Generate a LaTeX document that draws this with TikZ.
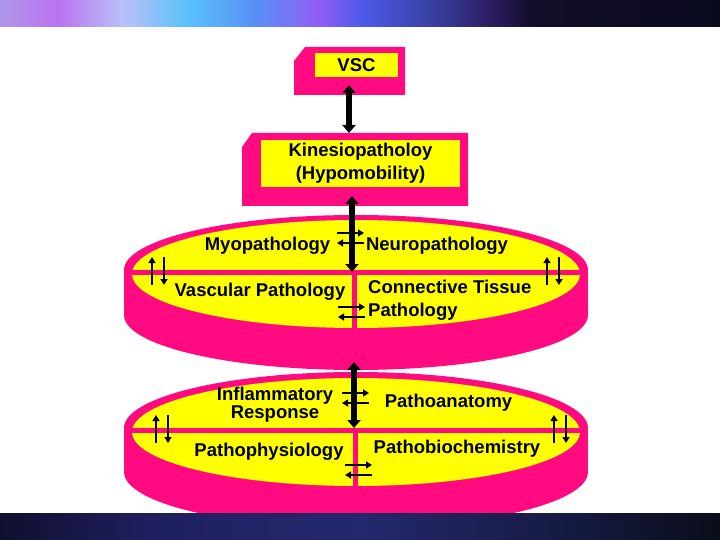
\documentclass[tikz,border=0pt]{standalone}
\usepackage{fontspec}
\setmainfont{Liberation Sans}
\usetikzlibrary{arrows.meta, positioning}
\definecolor{discpink}{HTML}{FF0A80}
\definecolor{boxyellow}{HTML}{FFFF00}
\pgfdeclarehorizontalshading{topband}{100bp}{rgb(0bp)=(0.69,0.59,0.92); rgb(25bp)=(0.69,0.59,0.92);
  rgb(29bp)=(0.73,0.45,0.94); rgb(33.5bp)=(0.73,0.75,0.98); rgb(38bp)=(0.35,0.76,0.98);
  rgb(43bp)=(0.35,0.55,0.96); rgb(47bp)=(0.57,0.37,0.96); rgb(50bp)=(0.31,0.35,0.92);
  rgb(55bp)=(0.22,0.25,0.63); rgb(59bp)=(0.18,0.12,0.39); rgb(62bp)=(0.07,0.05,0.16);
  rgb(75bp)=(0.04,0.04,0.12); rgb(100bp)=(0.04,0.04,0.12)}
\pgfdeclarehorizontalshading{bottomband}{100bp}{rgb(0bp)=(0.06,0.06,0.18); rgb(25bp)=(0.06,0.06,0.18);
  rgb(35bp)=(0.12,0.12,0.37); rgb(50bp)=(0.14,0.16,0.43); rgb(65bp)=(0.08,0.10,0.25);
  rgb(75bp)=(0.04,0.05,0.10); rgb(100bp)=(0.04,0.05,0.10)}

\begin{document}
\begin{tikzpicture}[x=1pt, y=-1pt,
    txt/.style={font=\bfseries\fontsize{18.5}{20}\selectfont, inner sep=0pt},
    ybox/.style={rectangle, fill=boxyellow, inner sep=0pt, font=\bfseries\fontsize{18.5}{23}\selectfont},
    bigarrow/.style={{Triangle[length=8pt,width=13pt]}-{Triangle[length=8pt,width=13pt]}, line width=5.5pt},
    xarrow/.style={-{Triangle[length=6pt,width=7pt]}, line width=2.2pt}
  ]
  \useasboundingbox (0,0) rectangle (720,540);
  \fill[white] (0,0) rectangle (720,540);

  % upper disc
  \fill[discpink] (356,315) ellipse [x radius=232pt, y radius=55pt];
  \fill[discpink] (124,270) rectangle (588,315);
  \fill[discpink] (356,270) ellipse [x radius=232pt, y radius=55pt];
  \fill[boxyellow] (356,274) ellipse [x radius=224pt, y radius=54pt];
  \draw[discpink, line width=5pt] (132,272) -- (580,272);
  \draw[discpink, line width=5pt] (354,272) -- (354,328);

  % lower disc
  \fill[discpink] (356,472) ellipse [x radius=232pt, y radius=56pt];
  \fill[discpink] (124,428) rectangle (588,472);
  \fill[discpink] (356,428) ellipse [x radius=232pt, y radius=56pt];
  \fill[boxyellow] (356,432) ellipse [x radius=224pt, y radius=54pt];
  \draw[discpink, line width=5pt] (132,430) -- (580,430);
  \draw[discpink, line width=5pt] (355,430) -- (355,486);

  % top boxes
  \fill[discpink] (294,61) -- (305,47) -- (405,47) -- (405,95) -- (294,95) -- cycle;
  \node[ybox, minimum width=83pt, minimum height=24pt] (vsc) at (356.5,65) {VSC};
  \fill[discpink] (242,147) -- (252,133) -- (468,133) -- (468,206) -- (242,206) -- cycle;
  \node[ybox, minimum width=199pt, minimum height=47pt, align=center] (kin) at (360.5,163.5) {Kinesiopatholoy\\(Hypomobility)};

  % disc labels
  \node[txt] (myo) at (267.5,246) {Myopathology};
  \node[txt] (neuro) at (437,246) {Neuropathology};
  \node[txt] (vasc) at (260,292) {Vascular Pathology};
  \node[txt, font=\bfseries\fontsize{18.5}{23}\selectfont, align=left, anchor=north west] (conn) at (368,280) {Connective Tissue\\Pathology};
  \node[txt, font=\bfseries\fontsize{18.5}{15.5}\selectfont, align=center] (infl) at (275,404.5) {Inflammatory\\Response};
  \node[txt] (anat) at (448.5,403) {Pathoanatomy};
  \node[txt] (phys) at (269,452) {Pathophysiology};
  \node[txt] (biochem) at (457,449) {Pathobiochemistry};

  % main links
  \coordinate (vscfoot) at (349,85);
  \coordinate (kinhead) at (349,133);
  \coordinate (kinfoot) at (352,196);
  \coordinate (upperhub) at (352,272);
  \coordinate (upperfoot) at (354,362);
  \coordinate (lowerhub) at (354,428);
  \draw[bigarrow] (vscfoot) -- (kinhead);
  \draw[bigarrow] (kinfoot) -- (upperhub);
  \draw[bigarrow] (upperfoot) -- (lowerhub);

  % exchange arrows
  \foreach \x/\y in {337/233, 338/307, 342/393, 345/465} {
    \draw[xarrow] (\x,\y) -- ++(27,0);
    \draw[xarrow] (\x+27,\y+10) -- ++(-27,0);
  }
  \foreach \x/\y in {152/257, 547/257, 156/415, 554/415} {
    \draw[xarrow] (\x,\y+28) -- (\x,\y);
    \draw[xarrow] (\x+12,\y) -- (\x+12,\y+28);
  }

  % bands
  \shade[shading=topband] (0,0) rectangle (720,26.5);
  \shade[shading=bottomband] (0,513) rectangle (720,540);
\end{tikzpicture}
\end{document}
